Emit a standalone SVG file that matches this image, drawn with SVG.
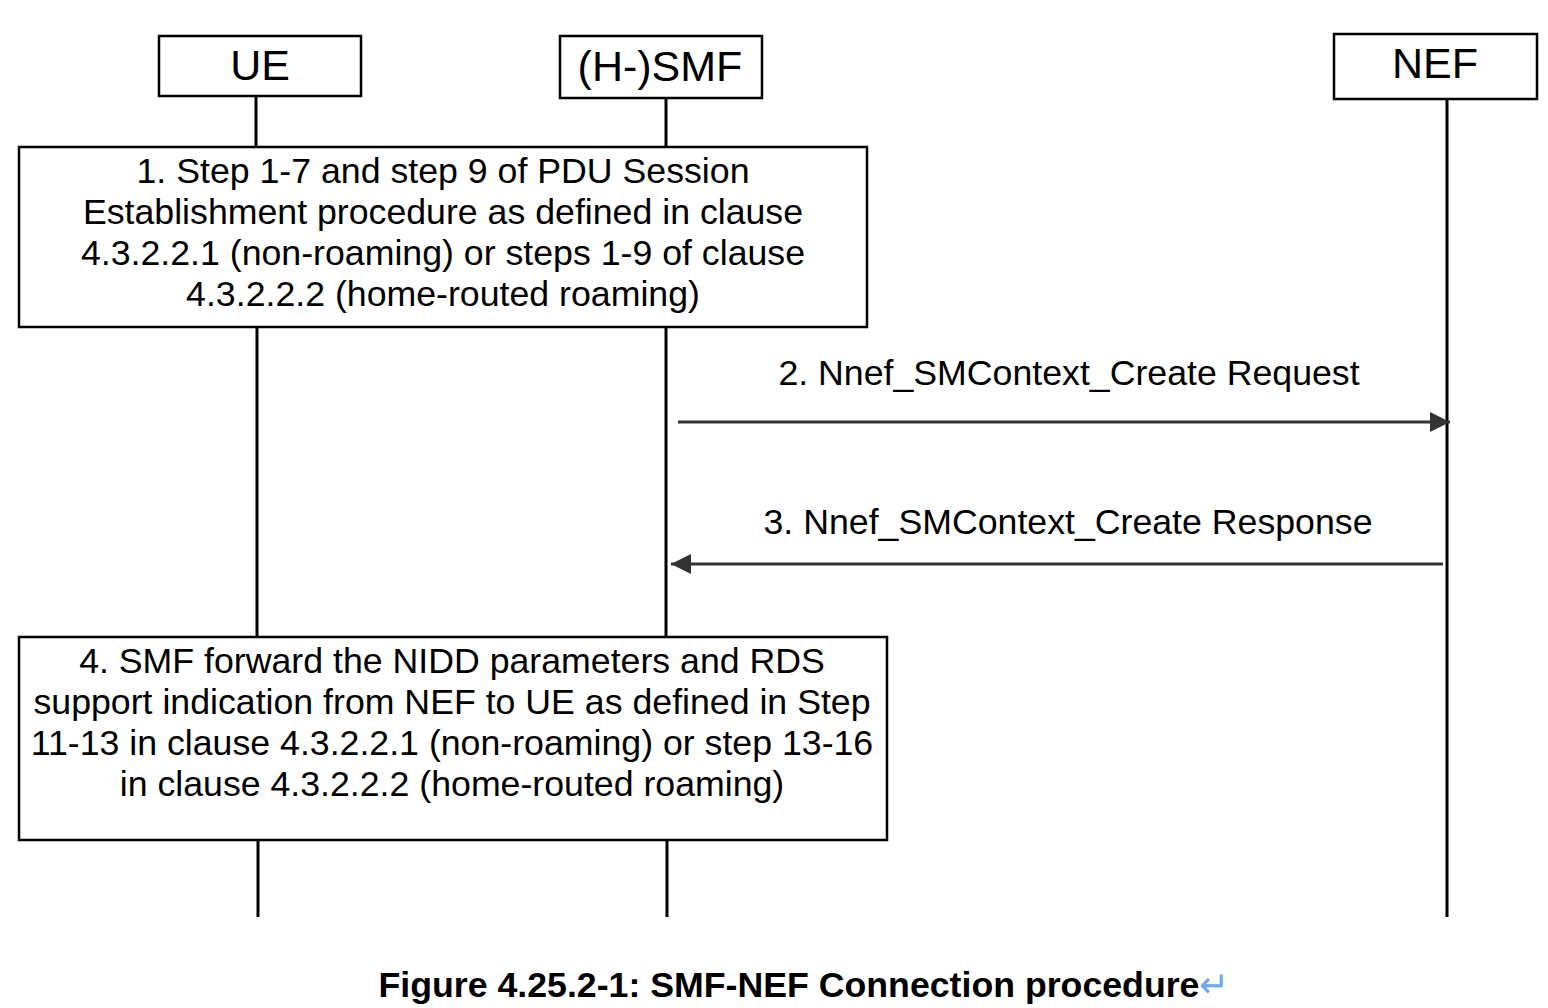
<svg xmlns="http://www.w3.org/2000/svg" width="1548" height="1008" viewBox="0 0 1548 1008">
<style>
.box{fill:#fff;stroke:#000;stroke-width:2.5}
.life{stroke:#000;stroke-width:3;fill:none}
.hdr{font-family:"Liberation Sans",Arial,sans-serif;font-size:43px;fill:#000;text-anchor:middle}
.t{font-family:"Liberation Sans",Arial,sans-serif;font-size:35.7px;fill:#000;text-anchor:middle}
.msg{stroke:#333;stroke-width:3;fill:none}
.cap{font-family:"Liberation Sans",Arial,sans-serif;font-size:35.7px;font-weight:bold;fill:#000;text-anchor:middle}
</style>
<defs>
<marker id="ah" viewBox="0 0 20 20" refX="20" refY="10" markerWidth="20" markerHeight="20" markerUnits="userSpaceOnUse" orient="auto">
<path d="M0,0 L20,10 L0,20 Z" fill="#333"/>
</marker>
</defs>
<rect width="1548" height="1008" fill="#fff"/>
<g id="lifelines">
<line class="life" x1="256" y1="96" x2="256" y2="147"/>
<line class="life" x1="257" y1="327" x2="257" y2="637"/>
<line class="life" x1="258" y1="840" x2="258" y2="917"/>
<line class="life" x1="666" y1="98" x2="666" y2="147"/>
<line class="life" x1="666" y1="327" x2="666" y2="637"/>
<line class="life" x1="667" y1="840" x2="667" y2="917"/>
<line class="life" x1="1447" y1="99" x2="1447" y2="917"/>
</g>
<g id="ue">
<rect class="box" x="159" y="36" width="202" height="60"/>
<text class="hdr" x="260" y="80">UE</text>
</g>
<g id="smf">
<rect class="box" x="560" y="36" width="202" height="62"/>
<text class="hdr" x="660" y="81">(H-)SMF</text>
</g>
<g id="nef">
<rect class="box" x="1334" y="34" width="203" height="65"/>
<text class="hdr" x="1435" y="78">NEF</text>
</g>
<g id="step1">
<rect class="box" x="19" y="147" width="848" height="180"/>
<text class="t" x="443" y="183">1. Step 1-7 and step 9 of PDU Session</text>
<text class="t" x="443" y="224">Establishment procedure as defined in clause</text>
<text class="t" x="443" y="265">4.3.2.2.1 (non-roaming) or steps 1-9 of clause</text>
<text class="t" x="443" y="306">4.3.2.2.2 (home-routed roaming)</text>
</g>
<g id="step4">
<rect class="box" x="19" y="637" width="868" height="203"/>
<text class="t" x="452" y="673">4. SMF forward the NIDD parameters and RDS</text>
<text class="t" x="452" y="714">support indication from NEF to UE as defined in Step</text>
<text class="t" x="452" y="755">11-13 in clause 4.3.2.2.1 (non-roaming) or step 13-16</text>
<text class="t" x="452" y="796">in clause 4.3.2.2.2 (home-routed roaming)</text>
</g>
<g id="connectors">
<line class="msg" x1="678" y1="422" x2="1450" y2="422" marker-end="url(#ah)"/>
<text class="t" x="1069" y="385">2. Nnef_SMContext_Create Request</text>
<line class="msg" x1="1443" y1="564" x2="671" y2="564" marker-end="url(#ah)"/>
<text class="t" x="1068" y="534">3. Nnef_SMContext_Create Response</text>
</g>
<g id="caption">
<text class="cap" x="804" y="997">Figure 4.25.2-1: SMF-NEF Connection procedure<tspan fill="#6fa8e8" font-weight="normal">↵</tspan></text>
</g>
</svg>
